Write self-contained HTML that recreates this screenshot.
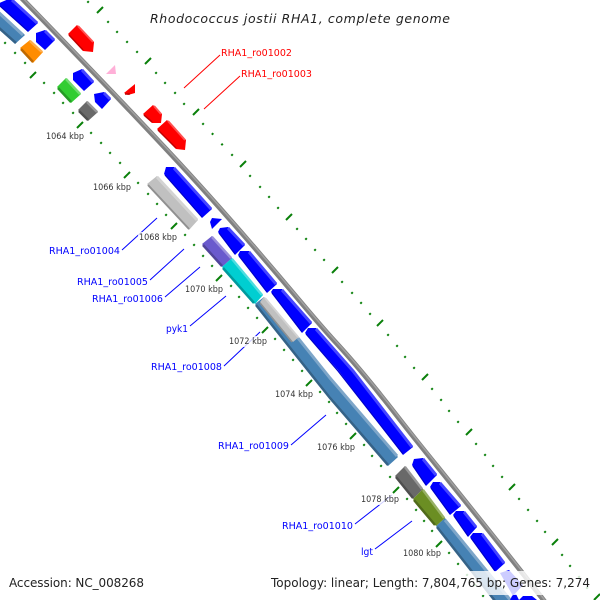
<!DOCTYPE html>
<html><head><meta charset="utf-8"><style>
html,body{margin:0;padding:0;background:#fff}
svg{display:block}
text{font-family:"DejaVu Sans","Liberation Sans",sans-serif}
.l{font-size:10px}
.k{font-size:9px;fill:#333}
</style></head><body>
<svg width="600" height="600" viewBox="0 0 600 600" xmlns="http://www.w3.org/2000/svg">
<rect width="600" height="600" fill="#fff"/>
<!-- ticks -->
<g fill="none" stroke="#0a800a">
<path stroke-width="2" d="M87.300 2.700l1.500-1.500M107.300 22.700l1.500-1.500M116.300 32.700l1.500-1.500M126.300 42.700l1.500-1.500M136.300 52.700l1.500-1.500M155.300 73.700l1.500-1.500M164.300 83.700l1.500-1.500M174.300 93.700l1.500-1.500M183.300 104.700l1.500-1.500M202.300 124.700l1.500-1.500M211.800 134.700l1.500-1.500M221.300 145.200l1.500-1.500M231.300 155.700l1.500-1.500M249.300 176.700l1.500-1.500M259.300 187.700l1.500-1.500M268.300 197.700l1.500-1.500M277.300 208.700l1.500-1.500M296.300 229.700l1.500-1.500M305.300 239.700l1.500-1.500M314.300 250.700l1.500-1.500M323.300 260.700l1.500-1.500M341.300 282.700l1.500-1.500M351.300 293.700l1.500-1.500M360.300 303.700l1.500-1.500M369.300 314.700l1.500-1.500M387.300 335.700l1.500-1.500M396.300 346.700l1.500-1.500M404.300 357.700l1.500-1.500M413.300 368.700l1.500-1.500M431.300 389.700l1.500-1.500M440.300 400.700l1.500-1.500M448.300 411.700l1.500-1.500M457.300 422.700l1.500-1.500M475.300 444.700l1.500-1.500M484.300 455.700l1.500-1.500M492.300 466.700l1.500-1.500M501.300 477.700l1.500-1.500M518.300 499.700l1.500-1.500M527.300 510.700l1.500-1.500M536.300 521.700l1.500-1.500M544.300 532.700l1.500-1.500M561.300 555.700l1.500-1.500M569.300 566.700l1.500-1.500M578.300 577.700l1.500-1.500M586.300 588.700l1.500-1.500"/>
<path stroke-width="2" d="M97 13l6-6M145 64l6-6M193 115l6-6M240 167l6-6M286 220l6-6M332 273l6-6M377 326l6-6M422 380l6-6M466 435l6-6M509 490l6-6M552 545l6-6M594 600l6-6"/>
<path stroke-width="2" d="M4.300 43.700l1.500-1.500M14.300 53.700l1.500-1.500M24.300 63.700l1.500-1.500M43.300 83.700l1.500-1.500M53.300 93.700l1.500-1.500M62.300 103.700l1.500-1.500M72.300 113.700l1.500-1.500M90.300 133.700l1.500-1.500M100.300 143.700l1.500-1.500M109.300 153.700l1.500-1.500M119.300 163.700l1.500-1.500M137.300 183.700l1.500-1.500M147.300 194.700l1.500-1.500M156.300 204.700l1.500-1.500M165.300 215.700l1.500-1.500M184.300 235.700l1.500-1.500M193.300 245.700l1.500-1.500M202.300 256.700l1.500-1.500M211.300 266.700l1.500-1.500M230.300 286.700l1.500-1.500M238.300 297.700l1.500-1.500M247.300 308.700l1.500-1.500M256.300 318.700l1.500-1.500M274.300 339.700l1.500-1.500M283.300 350.700l1.500-1.500M292.300 360.700l1.500-1.500M301.300 371.700l1.500-1.500M319.300 392.700l1.500-1.500M328.300 402.700l1.500-1.500M336.300 413.700l1.500-1.500M345.300 424.700l1.500-1.500M363.300 445.700l1.500-1.500M371.300 456.700l1.500-1.500M380.300 466.700l1.500-1.500M389.300 477.700l1.500-1.500M406.300 499.700l1.500-1.500M415.300 510.700l1.500-1.500M423.300 521.700l1.500-1.500M431.300 531.700l1.500-1.500M448.300 553.700l1.500-1.500M457.300 564.700l1.500-1.500M466.300 575.700l1.500-1.500M474.300 585.700l1.500-1.500M482.300 596.700l1.500-1.500"/>
<path stroke-width="2" d="M30 78l6-6M77 128l6-6M124 178l6-6M171 229l6-6M216 281l6-6M262 333l6-6M306 386l6-6M350 439l6-6M393 493l6-6M436 547l6-6"/>
</g>
<!-- backbone -->
<path d="M20.500-3C75 53 122 102 167 150S257 250 299 300S333 338 360 370S392 410 416 440S501 545 545 602" fill="none" stroke="#808080" stroke-width="5"/>
<path d="M21.300-3.500C75.800 52.500 122.800 101.500 167.800 149.500S257.800 249.500 299.800 299.500S333.800 337.500 360.800 369.500S392.800 409.500 416.800 439.500S501.800 544.500 545.800 601.500" fill="none" stroke="#a0a0a0" stroke-width="1.500"/>
<!-- label lines -->
<g stroke-width="1" fill="none">
<path stroke="#f00" d="M184 88L220 55M204 109L240 76"/>
<path stroke="#00f" d="M122 250L157 218M150 280L184 249M165 297L200 267M190 326L226 296M224 366L260 332M291 445L326 415M355 524L392 495M375 549L412 521"/>
</g>
<!-- steel -->
<g fill="none">
<polygon fill="#4682b4" points="-3,9 25,35 15,44 -5,26"/>
<path d="M-2 12L23 35" stroke="#7ea6c9" stroke-width="3"/>
<path d="M-2 27L16 43" stroke="#356287" stroke-width="2.500"/>
<polygon fill="#4682b4" points="255,304 264,297 297,337 330,378 398,457 388,466 330,399"/>
<path d="M298 338L330 378L397 456" stroke="#7ea6c9" stroke-width="3"/>
<path d="M256 305L330 398L388 465" stroke="#356287" stroke-width="2.500"/>
<polygon fill="#4682b4" points="436,526 445,518 522,612 510,622"/>
<path d="M445 520L520 612" stroke="#7ea6c9" stroke-width="3"/>
<path d="M437 527L510 620" stroke="#356287" stroke-width="2.500"/>
</g>
<!-- colored boxes -->
<g>
<polygon fill="#ff8c00" points="20,48 30,40 43,52 33,63"/><path d="M30 41L42 52" stroke="#ffae4d" stroke-width="2.500"/><path d="M21 49L33 62" stroke="#bf6900" stroke-width="2.500"/>
<polygon fill="#32cd32" points="57,87 66,78 81,94 71,103"/><path d="M66 79L80 94" stroke="#70dc70" stroke-width="2.500"/><path d="M58 88L71 102" stroke="#269a26" stroke-width="2.500"/>
<polygon fill="#696969" points="78,110 87,101 98,112 88,121"/><path d="M87 102L97 112" stroke="#969696" stroke-width="2.500"/><path d="M79 111L88 120" stroke="#4f4f4f" stroke-width="2.500"/>
<polygon fill="#c0c0c0" points="147,184 157,176 198,220 189,230"/><path d="M157 177L197 220" stroke="#d3d3d3" stroke-width="3"/><path d="M148 185L189 229" stroke="#909090" stroke-width="2"/>
<polygon fill="#6a5acd" points="202,244 212,236 232,258 222,267"/><path d="M212 237L231 258" stroke="#9a8fdc" stroke-width="2.500"/><path d="M203 245L222 266" stroke="#50449a" stroke-width="2.500"/>
<polygon fill="#00ced1" points="222,267 232,258 263,295 255,304"/><path d="M232 259L262 295" stroke="#4ddde0" stroke-width="2.500"/><path d="M223 268L254 303" stroke="#009a9d" stroke-width="2.500"/>
<polygon fill="#c0c0c0" points="260,302 264,297 299,337 293,342"/><path d="M265 298L298 337" stroke="#d3d3d3" stroke-width="2"/><path d="M260 303L292 342" stroke="#909090" stroke-width="1.500"/>
<polygon fill="#696969" points="395,476 405,466 423,489 413,499"/><path d="M405 467L422 489" stroke="#969696" stroke-width="2.500"/><path d="M396 477L413 498" stroke="#4f4f4f" stroke-width="2.500"/>
<polygon fill="#6b8e23" points="413,499 423,489 445,518 436,526"/><path d="M423 490L444 518" stroke="#97b065" stroke-width="2.500"/><path d="M414 500L435 525" stroke="#506a1a" stroke-width="2.500"/>
</g>
<!-- blue genes -->
<g fill="#00f">
<polygon points="11,-2 38,23 28,32 -3,4"/>
<polygon points="36,33 45,30 55,40 45,50 36,42"/>
<polygon points="73,73 82,69 94,82 84,91 73,80"/>
<polygon points="94,94 104,92 111,99 102,109 95,102"/>
<polygon points="164,174 166,167 174,167 212,209 202,218"/>
<polygon points="210,222 212,218 222,219 212,229"/>
<polygon points="218,232 220,228 228,227 245,245 235,255"/>
<polygon points="238,255 240,251 249,251 277,284 267,293"/>
<polygon points="271,292 273,289 282,289 312,323 302,333"/>
<polygon points="305,333 308,328 316,328 353,370 413,447 403,455 338,370"/>
<polygon points="412,465 414,459 423,458 437,475 426,486"/>
<polygon points="430,487 433,482 440,482 461,506 450,515"/>
<polygon points="453,515 456,511 464,511 477,527 468,537"/>
<polygon points="470,537 473,533 482,533 505,563 495,572"/>
<polygon points="500,573 509,570 523,585 513,596"/>
<polygon points="512,596 516,594 519,600 510,600"/>
<polygon points="519,600 523,596 532,596 537,600"/>
</g>
<g stroke="#4646ff" stroke-width="3" fill="none">
<path d="M12 0L37 23M45 31L54 40M82 70L93 82M104 93L110 99M174 168L211 209M228 228L244 245M249 252L276 284M282 290L311 323M316 329L353 371L412 447M423 459L436 475M440 483L460 506M464 512L476 527M482 534L504 563"/>
</g>
<g stroke="#0000c8" stroke-width="1.200" fill="none">
<path d="M0 6L28 31M165 175L202 217M219 233L235 254M239 256L267 292M272 293L302 332M306 334L338 371L403 454M413 466L426 485M431 488L450 514M454 516L468 536M471 538L495 571"/>
</g>
<!-- red genes -->
<g fill="#f00">
<polygon points="68,34 77,25 94,42 93,52 83,51"/>
<polygon points="124,93 135,84 135,93 128,95"/>
<polygon points="143,114 153,105 162,114 161,123 152,123"/>
<polygon points="157,129 167,120 186,140 185,150 176,149"/>
</g>
<g stroke="#ff5050" stroke-width="2" fill="none"><path d="M78 26L93 42M154 106L161 114M168 121L185 140"/></g>
<g stroke="#c00000" stroke-width="1.500" fill="none"><path d="M69 35L83 50M125 94L130 94M144 115L152 122M158 130L176 148"/></g>
<polygon fill="#ffb0d8" points="106,74 115,65 116,74"/>
<!-- translucent overlays -->
<rect x="268" y="571" width="324" height="24" fill="#fff" fill-opacity=".8"/>
<g fill="#fff" fill-opacity=".8">
<rect x="45" y="131" width="40" height="11"/><rect x="92" y="182" width="40" height="11"/><rect x="138" y="232" width="40" height="11"/><rect x="184" y="284" width="40" height="11"/><rect x="228" y="336" width="40" height="11"/><rect x="274" y="389" width="40" height="11"/><rect x="316" y="442" width="40" height="11"/><rect x="360" y="494" width="40" height="11"/><rect x="402" y="548" width="40" height="11"/>
</g>
<!-- text -->
<text x="150" y="23" font-size="12.500" font-style="italic" fill="#222" textLength="300" lengthAdjust="spacing">Rhodococcus jostii RHA1, complete genome</text>
<text class="l" x="221" y="56" fill="#f00" textLength="71" lengthAdjust="spacingAndGlyphs">RHA1_ro01002</text>
<text class="l" x="241" y="77" fill="#f00" textLength="71" lengthAdjust="spacingAndGlyphs">RHA1_ro01003</text>
<text class="l" x="49" y="254" fill="#00f" textLength="71" lengthAdjust="spacingAndGlyphs">RHA1_ro01004</text>
<text class="l" x="77" y="285" fill="#00f" textLength="71" lengthAdjust="spacingAndGlyphs">RHA1_ro01005</text>
<text class="l" x="92" y="302" fill="#00f" textLength="71" lengthAdjust="spacingAndGlyphs">RHA1_ro01006</text>
<text class="l" x="166" y="332" fill="#00f" textLength="22" lengthAdjust="spacingAndGlyphs">pyk1</text>
<text class="l" x="151" y="370" fill="#00f" textLength="71" lengthAdjust="spacingAndGlyphs">RHA1_ro01008</text>
<text class="l" x="218" y="449" fill="#00f" textLength="71" lengthAdjust="spacingAndGlyphs">RHA1_ro01009</text>
<text class="l" x="282" y="529" fill="#00f" textLength="71" lengthAdjust="spacingAndGlyphs">RHA1_ro01010</text>
<text class="l" x="361" y="555" fill="#00f" textLength="12" lengthAdjust="spacingAndGlyphs">lgt</text>
<text class="k" x="46" y="139" textLength="38" lengthAdjust="spacingAndGlyphs">1064 kbp</text>
<text class="k" x="93" y="190" textLength="38" lengthAdjust="spacingAndGlyphs">1066 kbp</text>
<text class="k" x="139" y="240" textLength="38" lengthAdjust="spacingAndGlyphs">1068 kbp</text>
<text class="k" x="185" y="292" textLength="38" lengthAdjust="spacingAndGlyphs">1070 kbp</text>
<text class="k" x="229" y="344" textLength="38" lengthAdjust="spacingAndGlyphs">1072 kbp</text>
<text class="k" x="275" y="397" textLength="38" lengthAdjust="spacingAndGlyphs">1074 kbp</text>
<text class="k" x="317" y="450" textLength="38" lengthAdjust="spacingAndGlyphs">1076 kbp</text>
<text class="k" x="361" y="502" textLength="38" lengthAdjust="spacingAndGlyphs">1078 kbp</text>
<text class="k" x="403" y="556" textLength="38" lengthAdjust="spacingAndGlyphs">1080 kbp</text>
<text x="9" y="587" font-size="12" fill="#222" textLength="135" lengthAdjust="spacing">Accession: NC_008268</text>
<text x="271" y="587" font-size="12" fill="#222" textLength="319" lengthAdjust="spacing">Topology: linear; Length: 7,804,765 bp; Genes: 7,274</text>
</svg>
</body></html>
